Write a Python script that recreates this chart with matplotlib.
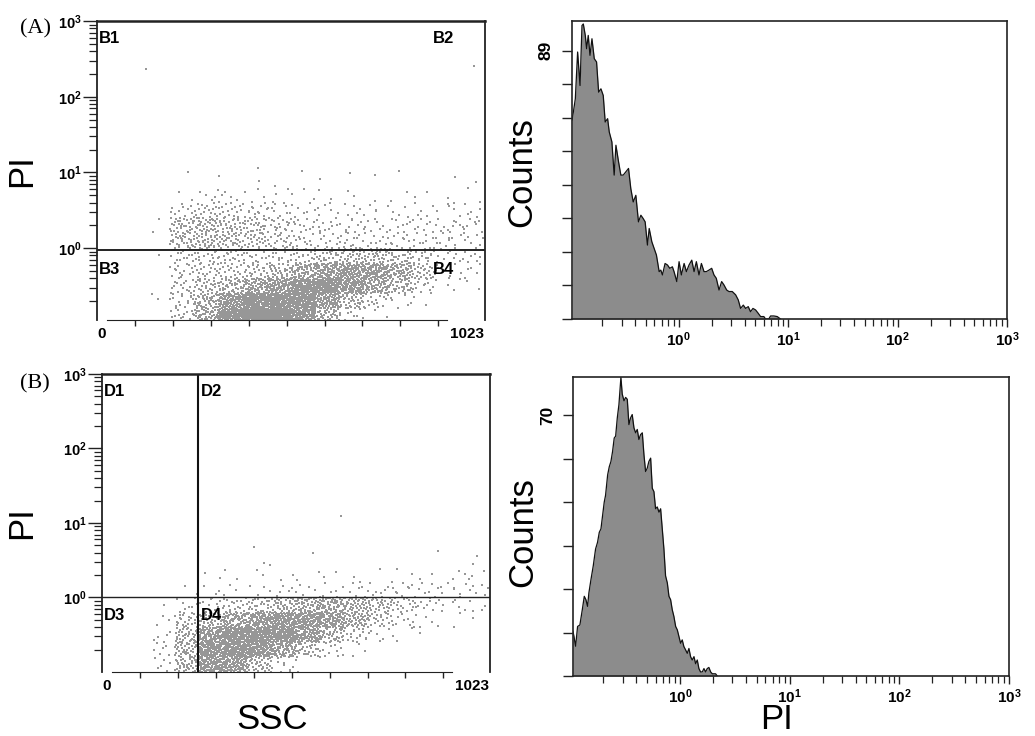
import numpy as np
import matplotlib
matplotlib.use('Agg')
import matplotlib.pyplot as plt
from matplotlib.ticker import FixedLocator, NullFormatter

plt.rcParams['font.family'] = ['Liberation Sans', 'DejaVu Sans']
plt.rcParams['mathtext.fontset'] = 'custom'
plt.rcParams['mathtext.rm'] = 'Liberation Sans'
plt.rcParams['mathtext.it'] = 'Liberation Sans:italic'
plt.rcParams['mathtext.bf'] = 'Liberation Sans:bold'

# ---------------- data ----------------
# SSC channel bins (0..1023) used for the dot-plot density
ssc_edges = [0, 64, 128, 192, 256, 320, 384, 448, 512, 576, 640, 704, 768, 832, 896, 960, 1023]

# Panel A dot plot: log10(PI) bin edges and estimated event counts per cell (rows bottom -> top)
logpi_edges_A = [-0.95, -0.8, -0.6, -0.4, -0.2, 0.0, 0.2, 0.4, 0.6, 0.8, 1.0]
counts_A = [
    [0, 0, 0, 12, 40, 120, 190, 190, 110, 35, 8, 2, 0, 0, 0, 0],
    [0, 0, 2, 18, 45, 100, 170, 180, 150, 85, 40, 15, 6, 2, 0, 0],
    [0, 0, 0, 16, 28, 40, 65, 95, 130, 135, 105, 65, 35, 14, 3, 2],
    [0, 0, 0, 14, 18, 20, 24, 35, 55, 80, 95, 85, 55, 28, 6, 5],
    [0, 0, 1, 15, 18, 16, 14, 15, 20, 25, 32, 32, 26, 18, 8, 8],
    [0, 0, 0, 30, 36, 30, 25, 18, 14, 12, 12, 10, 10, 10, 10, 8],
    [0, 0, 2, 30, 36, 30, 25, 18, 12, 10, 10, 8, 8, 9, 9, 8],
    [0, 0, 0, 12, 18, 16, 14, 10, 7, 6, 5, 5, 4, 5, 5, 5],
    [0, 0, 0, 2, 5, 5, 4, 3, 3, 2, 2, 1, 2, 2, 2, 2],
    [0, 0, 0, 0, 0, 1, 1, 1, 0, 1, 0, 1, 0, 0, 1, 0],
]
outlier_ssc_A = [130, 995, 241, 425, 540, 667, 795, 1000]
outlier_logpi_A = [2.37, 2.41, 1.0, 1.06, 1.02, 0.99, 1.02, 0.88]

# Panel B dot plot
logpi_edges_B = [-1.0, -0.8, -0.6, -0.4, -0.2, 0.0, 0.2, 0.4, 0.6]
counts_B = [
    [0, 0, 6, 40, 110, 90, 35, 10, 2, 0, 0, 0, 0, 0, 0, 0],
    [0, 0, 6, 45, 120, 140, 130, 70, 28, 10, 3, 0, 0, 0, 0, 0],
    [0, 0, 5, 38, 90, 135, 165, 150, 85, 40, 18, 6, 2, 1, 0, 0],
    [0, 0, 3, 24, 38, 65, 90, 110, 105, 80, 50, 22, 9, 4, 2, 1],
    [0, 0, 1, 8, 12, 18, 24, 36, 50, 55, 48, 30, 18, 10, 5, 4],
    [0, 0, 0, 2, 3, 3, 4, 5, 6, 6, 7, 8, 8, 8, 7, 6],
    [0, 0, 0, 0, 2, 2, 2, 2, 2, 2, 2, 2, 2, 2, 3, 3],
    [0, 0, 0, 0, 0, 0, 1, 0, 0, 0, 0, 0, 0, 0, 0, 1],
]
outlier_ssc_B = [629, 401, 557, 886, 989, 443]
outlier_logpi_B = [1.09, 0.68, 0.60, 0.62, 0.55, 0.44]

gate_A_pi = 0.93
gate_B_pi = 1.02
gate_B_ssc = 254
quad_A = ['B1', 'B2', 'B3', 'B4']
quad_B = ['D1', 'D2', 'D3', 'D4']

# Histogram A (log10 PI, counts)
histA_logpi = [-0.975, -0.963, -0.945, -0.924, -0.902, -0.884, -0.872, -0.854, -0.842, -0.827, -0.811,
               -0.793, -0.772, -0.751, -0.732, -0.711, -0.690, -0.672, -0.650, -0.635, -0.611,
               -0.590, -0.574, -0.550, -0.529, -0.507, -0.483, -0.459, -0.438, -0.416, -0.392,
               -0.368, -0.346, -0.325, -0.307, -0.286, -0.270, -0.246, -0.225, -0.204, -0.179,
               -0.164, -0.149, -0.125, -0.103, -0.082, -0.058, -0.043, -0.018, 0.003, 0.024,
               0.049, 0.070, 0.094, 0.119, 0.140, 0.161, 0.185, 0.207, 0.231, 0.252,
               0.276, 0.301, 0.322, 0.343, 0.368, 0.392, 0.413, 0.438, 0.459, 0.489,
               0.520, 0.544, 0.565, 0.590, 0.611, 0.635, 0.656, 0.678, 0.702, 0.726,
               0.748, 0.778, 0.793, 0.823, 0.839, 0.869, 0.900, 0.930]
histA_counts = [66.0, 68.6, 73.0, 88.5, 77.4, 97.3, 97.8, 94.0, 89.6, 94.0, 87.4,
                92.9, 86.3, 85.2, 75.2, 76.3, 74.1, 65.3, 66.4, 62.0, 58.7,
                47.7, 57.6, 52.1, 47.7, 47.7, 48.8, 49.9, 43.2, 38.8, 41.0,
                32.2, 34.4, 33.3, 32.2, 24.5, 30.0, 25.6, 23.4, 21.2, 15.7,
                16.2, 14.6, 18.4, 17.9, 16.8, 17.3, 15.7, 12.4, 19.0, 14.6,
                18.4, 15.7, 17.9, 19.5, 15.7, 19.0, 14.6, 18.4, 15.7, 15.7,
                16.2, 16.8, 14.6, 13.5, 9.6, 12.4, 11.3, 9.6, 9.1, 9.1,
                8.0, 6.3, 3.5, 4.6, 3.5, 4.1, 2.4, 3.5, 3.0, 1.9,
                0.8, 0.8, 0.0, 0.0, 1.0, 1.0, 0.8, 0.0]

# Histogram B
histB_logpi = [-0.975, -0.966, -0.951, -0.933, -0.912, -0.890, -0.872, -0.857, -0.842, -0.830, -0.811,
               -0.790, -0.769, -0.751, -0.735, -0.720, -0.705, -0.690, -0.678, -0.659, -0.644,
               -0.629, -0.614, -0.599, -0.586, -0.571, -0.556, -0.538, -0.526, -0.510, -0.495,
               -0.480, -0.465, -0.450, -0.435, -0.419, -0.404, -0.389, -0.374, -0.359, -0.343,
               -0.328, -0.313, -0.298, -0.283, -0.267, -0.252, -0.237, -0.222, -0.207, -0.191,
               -0.176, -0.161, -0.146, -0.131, -0.115, -0.100, -0.085, -0.070, -0.055, -0.039,
               -0.024, -0.009, 0.006, 0.021, 0.036, 0.052, 0.067, 0.082, 0.097, 0.112,
               0.128, 0.143, 0.158, 0.173, 0.188, 0.204, 0.219, 0.234, 0.249, 0.264,
               0.280, 0.295, 0.310, 0.325, 0.340]
histB_counts = [12.0, 10.6, 8.0, 13.3, 13.7, 17.8, 21.4, 20.5, 18.7, 22.3, 25.9,
                29.6, 34.1, 35.9, 38.6, 39.5, 43.1, 46.7, 48.5, 54.0, 56.2,
                57.6, 60.3, 63.9, 64.4, 69.3, 72.9, 80.2, 75.7, 73.9, 74.8,
                74.3, 67.5, 69.3, 70.2, 66.6, 65.3, 66.2, 63.5, 64.8, 65.3,
                59.4, 54.9, 55.8, 57.6, 58.5, 50.4, 49.5, 44.9, 45.4, 44.0,
                44.9, 39.5, 34.1, 26.9, 25.0, 21.4, 20.5, 17.8, 16.0, 13.3,
                12.4, 10.6, 8.8, 9.7, 7.9, 7.0, 6.1, 7.4, 5.2, 4.3,
                5.2, 3.3, 4.3, 2.0, 1.1, 1.1, 2.0, 1.1, 2.0, 2.3,
                1.1, 0.6, 0.6, 0.6, 0.0]

histA_max, histA_label = 89, '89'
histB_max, histB_label = 70, '70'
histA_nticks, histB_nticks = 8, 6

# ---------------- helpers ----------------
def vdc(n, base):
    q, denom = 0.0, 1.0
    while n:
        denom *= base
        n, r = divmod(n, base)
        q += r / denom
    return q


def cells_to_points(edges_x, edges_y, counts):
    xs, ys = [], []
    for r, row in enumerate(counts):
        for c, n in enumerate(row):
            off = (r * 16 + c) * 53 + 7
            for k in range(n):
                u = vdc(k + off, 2)
                v = vdc(k + off, 3)
                xs.append(edges_x[c] + u * (edges_x[c + 1] - edges_x[c]))
                ys.append(10 ** (edges_y[r] + v * (edges_y[r + 1] - edges_y[r])))
    return np.array(xs), np.array(ys)


DOT = '#979797'
FILL = '#8c8c8c'
AX = '#222222'


def sup(e):
    return r'$\mathbf{10^{%d}}$' % e


def dotplot(ax, counts, yedges, oss, olp, ylo, hgate, vgate, labels, labpos, ylab_x):
    x, y = cells_to_points(ssc_edges, yedges, counts)
    x = np.concatenate([x, oss])
    y = np.concatenate([y, 10 ** np.array(olp)])
    ax.scatter(x, y, s=1.4, marker='s', c=DOT, linewidths=0)
    ax.set_yscale('log')
    ax.set_xlim(0, 1023)
    ax.set_ylim(ylo, 1000)
    ax.axhline(hgate, color=AX, lw=1.4 if vgate is None else 1.0)
    if vgate is not None:
        ax.axvline(vgate, color='#111111', lw=1.5)
    for s in ['left', 'top', 'right']:
        ax.spines[s].set_linewidth(1.3)
        ax.spines[s].set_color(AX)
    ax.spines['top'].set_linewidth(1.8)
    ax.spines['bottom'].set_bounds(26, 923)
    ax.spines['bottom'].set_color(AX)
    ax.xaxis.set_major_locator(FixedLocator([100, 200, 300, 400, 500, 600, 700, 800, 900]))
    ax.xaxis.set_major_formatter(NullFormatter())
    ax.tick_params(axis='x', length=4, width=1, direction='out', color=AX)
    ax.yaxis.set_major_locator(FixedLocator([1, 10, 100, 1000]))
    ax.yaxis.set_minor_locator(FixedLocator([m * 10.0 ** e for e in range(-1, 3) for m in range(2, 10)]))
    ax.set_yticklabels([sup(0), sup(1), sup(2), sup(3)])
    ax.yaxis.set_minor_formatter(NullFormatter())
    ax.tick_params(axis='y', which='major', length=10, width=1, pad=1, labelsize=10.5, color=AX)
    ax.tick_params(axis='y', which='minor', length=5.5, width=0.9, color=AX)
    tr = ax.get_xaxis_transform()
    ax.text(13, -0.025, '0', transform=tr, ha='center', va='top', fontsize=11, fontweight='bold')
    ax.text(975, -0.025, '1023', transform=tr, ha='center', va='top', fontsize=11, fontweight='bold')
    for lab, (px, py) in zip(labels, labpos):
        ax.text(px, py, lab, transform=ax.transAxes, ha='left', va='top', fontsize=12, fontweight='bold')
    ax.set_ylabel('PI', fontsize=25)
    ax.yaxis.set_label_coords(ylab_x, 0.5)


def histplot(ax, lx, cnt, step, nt, lab, ylab_y):
    xv = 10 ** np.array(lx)
    ax.fill_between(xv, cnt, 0, color=FILL, lw=0)
    ax.plot(xv, cnt, color='#111111', lw=0.9)
    ax.set_xscale('log')
    ax.set_xlim(10 ** -0.975, 1000)
    ax.set_ylim(0, step * (nt + 0.88))
    for s in ax.spines.values():
        s.set_linewidth(1.2)
        s.set_color(AX)
    ax.xaxis.set_major_locator(FixedLocator([1, 10, 100, 1000]))
    ax.xaxis.set_minor_locator(FixedLocator([m * 10.0 ** e for e in range(-1, 3) for m in range(2, 10)]))
    ax.set_xticklabels([sup(0), sup(1), sup(2), sup(3)])
    ax.xaxis.set_minor_formatter(NullFormatter())
    ax.tick_params(axis='x', which='major', length=6, width=1, labelsize=11, pad=2, color=AX)
    ax.tick_params(axis='x', which='minor', length=5, width=0.9, color=AX)
    ax.yaxis.set_major_locator(FixedLocator([step * k for k in range(nt + 1)]))
    ax.set_yticklabels([''] * nt + [lab], rotation=90, va='center', fontsize=12.5, fontweight='bold')
    ax.tick_params(axis='y', length=7, width=1, pad=6, color=AX)
    ax.set_ylabel('Counts', fontsize=25)
    ax.yaxis.set_label_coords(-0.078, ylab_y)


# ---------------- figure ----------------
fig = plt.figure(figsize=(10.35, 7.36), dpi=100)
axA = fig.add_axes([0.0937, 0.5652, 0.3749, 0.4062])
axB = fig.add_axes([0.0986, 0.0870, 0.3749, 0.4049])
axHA = fig.add_axes([0.5527, 0.5666, 0.4203, 0.4049])
axHB = fig.add_axes([0.5536, 0.0815, 0.4213, 0.4062])

dotplot(axA, counts_A, logpi_edges_A, outlier_ssc_A, outlier_logpi_A, 10 ** -0.95,
        gate_A_pi, None, quad_A, [(0.005, 0.967), (0.865, 0.967), (0.005, 0.195), (0.865, 0.195)],
        -0.152)
dotplot(axB, counts_B, logpi_edges_B, outlier_ssc_B, outlier_logpi_B, 0.1,
        gate_B_pi, gate_B_ssc, quad_B, [(0.005, 0.965), (0.255, 0.965), (0.005, 0.215), (0.255, 0.215)],
        -0.165)

histplot(axHA, histA_logpi, histA_counts, histA_max / histA_nticks, histA_nticks, histA_label, 0.493)
histplot(axHB, histB_logpi, histB_counts, histB_max / histB_nticks, histB_nticks, histB_label, 0.48)

fig.text(0.263, 0.009, 'SSC', fontsize=25, ha='center', va='baseline')
fig.text(0.750, 0.009, 'PI', fontsize=25, ha='center', va='baseline')

fig.text(0.019, 0.961, '(A)', family=['Liberation Serif'], fontsize=16, ha='left', va='center')
fig.text(0.019, 0.479, '(B)', family=['Liberation Serif'], fontsize=16, ha='left', va='center')

fig.savefig('out.png', dpi=100)
